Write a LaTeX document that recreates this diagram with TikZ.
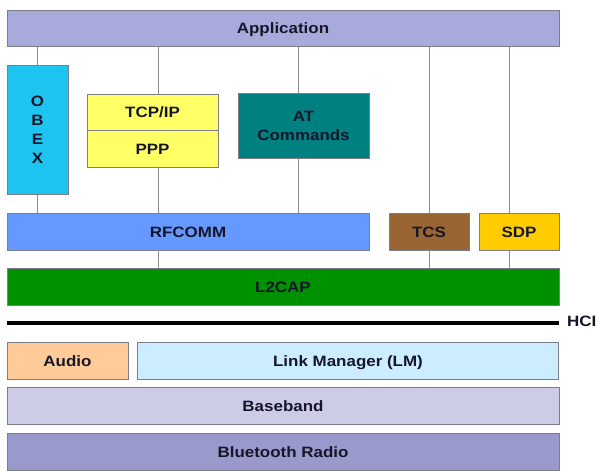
\documentclass[tikz,border=0pt]{standalone}
\usepackage{fontspec}
\setmainfont[FakeStretch=1.13]{Liberation Sans}
\definecolor{txt}{RGB}{22,22,40}
\definecolor{bord}{RGB}{125,125,135}
\definecolor{conn}{RGB}{140,140,140}
\definecolor{capp}{RGB}{169,170,220}
\definecolor{cobex}{RGB}{30,196,240}
\definecolor{cyel}{RGB}{255,255,102}
\definecolor{cteal}{RGB}{0,128,128}
\definecolor{crf}{RGB}{102,153,255}
\definecolor{ctcs}{RGB}{153,102,51}
\definecolor{csdp}{RGB}{255,204,0}
\definecolor{cl2}{RGB}{0,145,0}
\definecolor{caud}{RGB}{255,204,153}
\definecolor{clm}{RGB}{204,236,255}
\definecolor{cbb}{RGB}{204,204,230}
\definecolor{crad}{RGB}{153,153,204}
\begin{document}
\begin{tikzpicture}[x=1pt,y=-1pt,
  box/.style={draw=bord, line width=0.8pt, rectangle, inner sep=0pt, text=txt,
    font=\fontsize{15pt}{19pt}\selectfont\bfseries, align=center},
  one/.style={box, text height=11pt, text depth=0pt},
  wire/.style={draw=conn, line width=0.9pt}]
\useasboundingbox[fill=white] (0,0) rectangle (598,471);
% top
\node[one, fill=capp, minimum width=552pt, minimum height=36pt] (app) at (283,28.5) {Application};
\node[box, fill=cobex, minimum width=61pt, minimum height=129pt] (obex) at (37.5,130) {O\\B\\E\\X};
\node[one, fill=cyel, minimum width=131pt, minimum height=36pt] (tcp) at (152.5,112) {TCP/IP};
\node[one, fill=cyel, minimum width=131pt, minimum height=37pt] (ppp) at (152.5,148.5) {PPP};
\node[box, fill=cteal, minimum width=131pt, minimum height=65pt] (at) at (303.5,125.5) {AT\\Commands};
% middle
\node[one, fill=crf, minimum width=362pt, minimum height=37pt] (rf) at (188,231.5) {RFCOMM};
\node[one, fill=ctcs, minimum width=80pt, minimum height=37pt] (tcs) at (429,231.5) {TCS};
\node[one, fill=csdp, minimum width=80pt, minimum height=37pt] (sdp) at (519,231.5) {SDP};
\node[one, fill=cl2, minimum width=552pt, minimum height=37pt] (l2) at (283,286.5) {L2CAP};
% HCI
\coordinate (hcil) at (7,323);
\coordinate (hcir) at (559,323);
\draw[line width=4.5pt, black] (hcil) -- (hcir);
\node[anchor=west, inner sep=0pt, text=txt, font=\fontsize{15pt}{19pt}\selectfont\bfseries] (hci) at (567,321.5) {HCI};
% bottom
\node[one, fill=caud, minimum width=121pt, minimum height=37pt] (aud) at (67.5,360.5) {Audio};
\node[one, fill=clm, minimum width=421pt, minimum height=37pt] (lm) at (348,360.5) {Link Manager (LM)};
\node[one, fill=cbb, minimum width=552pt, minimum height=37pt] (bb) at (283,405.5) {Baseband};
\node[one, fill=crad, minimum width=552pt, minimum height=37pt] (rad) at (283,451.5) {Bluetooth Radio};
% connectors
\draw[wire] (obex.north) -- (obex.north |- app.south);
\draw[wire] ([xshift=5.5pt]tcp.north) -- ([xshift=5.5pt]tcp.north |- app.south);
\draw[wire] ([xshift=-5.5pt]at.north) -- ([xshift=-5.5pt]at.north |- app.south);
\draw[wire] (tcs.north) -- (tcs.north |- app.south);
\draw[wire] ([xshift=-10pt]sdp.north) -- ([xshift=-10pt]sdp.north |- app.south);
\draw[wire] (obex.south) -- (obex.south |- rf.north);
\draw[wire] ([xshift=5.5pt]ppp.south) -- ([xshift=5.5pt]ppp.south |- rf.north);
\draw[wire] ([xshift=-5.5pt]at.south) -- ([xshift=-5.5pt]at.south |- rf.north);
\draw[wire] ([xshift=5.5pt]ppp.south |- rf.south) -- ([xshift=5.5pt]ppp.south |- l2.north);
\draw[wire] (tcs.south) -- (tcs.south |- l2.north);
\draw[wire] ([xshift=-10pt]sdp.south) -- ([xshift=-10pt]sdp.south |- l2.north);
\end{tikzpicture}
\end{document}
